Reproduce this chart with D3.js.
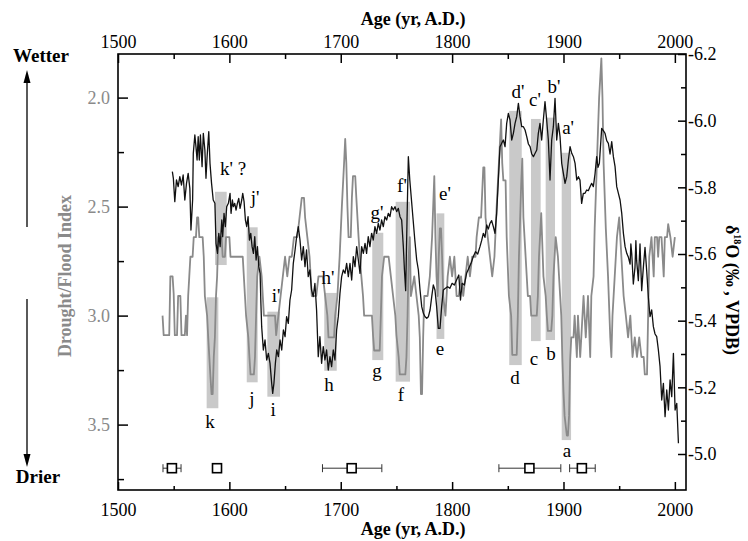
<!DOCTYPE html>
<html>
<head>
<meta charset="utf-8">
<script src="https://cdn.jsdelivr.net/npm/d3@7"></script>
<style>
  body { margin: 0; background: #fff; }
  svg text { font-family: "Liberation Serif", "Times New Roman", serif; }
</style>
</head>
<body>
<div id="chart"></div>
<script>
// Drought/Flood index (left axis, grey line): [year, index]
const dfiSeries = [
  [1540,3.0],[1541,3.09],[1546,3.09],[1547,2.82],[1549,2.82],[1550,2.9],[1551,3.09],[1553,3.09],[1554,2.91],[1556,2.91],
  [1557,3.09],[1560,3.09],[1561,3.0],[1562,3.09],[1563,2.91],[1564,2.82],[1565,2.73],[1567,2.73],[1568,2.64],[1570,2.64],
  [1571,2.55],[1572,2.55],[1573,2.64],[1576,2.64],[1577,2.73],[1578,2.91],[1580,3.0],[1581,3.1],[1582,3.19],[1583,3.28],
  [1584,3.36],[1585,3.36],[1586,3.19],[1587,3.1],[1588,2.91],[1589,2.82],[1590,2.64],[1593,2.64],[1594,2.73],[1596,2.73],
  [1597,2.64],[1600,2.64],[1601,2.73],[1612,2.73],[1614,2.91],[1615,3.0],[1617,3.1],[1618,3.19],[1619,3.27],[1622,3.27],
  [1623,3.19],[1624,3.0],[1625,2.82],[1627,2.73],[1629,2.82],[1631,3.0],[1641,3.0],[1642,3.09],[1644,3.0],[1646,2.91],
  [1648,2.82],[1650,2.73],[1652,2.82],[1654,2.73],[1656,2.73],[1658,2.64],[1661,2.64],[1663,2.55],[1665,2.46],[1667,2.46],
  [1668,2.55],[1670,2.64],[1672,2.73],[1674,2.91],[1678,2.91],[1680,2.82],[1684,2.82],[1686,2.91],[1688,3.0],[1689,3.1],
  [1694,3.1],[1695,3.0],[1697,2.91],[1699,2.73],[1701,2.5],[1703,2.3],[1704,2.19],[1705,2.3],[1706,2.5],[1707,2.64],
  [1709,2.64],[1710,2.46],[1711,2.36],[1713,2.36],[1714,2.46],[1716,2.64],[1718,2.79],[1720,2.91],[1721,3.0],[1728,3.0],
  [1729,3.09],[1730,3.16],[1735,3.16],[1736,3.0],[1737,2.82],[1739,2.73],[1743,2.73],[1745,2.82],[1747,2.91],[1749,3.0],
  [1750,3.09],[1752,3.19],[1753,3.27],[1758,3.27],[1759,3.19],[1760,3.0],[1761,2.73],[1762,2.64],[1763,2.91],[1766,2.82],
  [1768,2.91],[1770,3.0],[1771,3.1],[1772,3.36],[1773,3.36],[1774,3.1],[1775,2.91],[1778,2.91],[1780,2.82],[1782,2.64],
  [1784,2.36],[1785,2.64],[1786,2.82],[1787,2.91],[1788,2.73],[1789,2.6],[1790,2.6],[1791,2.73],[1792,2.91],[1794,3.0],
  [1796,2.82],[1798,2.73],[1800,2.82],[1802,2.73],[1804,2.91],[1806,2.91],[1808,2.82],[1810,2.91],[1812,2.82],[1814,2.73],
  [1816,2.82],[1818,2.73],[1821,2.73],[1822,2.64],[1824,2.55],[1826,2.55],[1828,2.32],[1829,2.32],[1830,2.55],[1832,2.64],
  [1834,2.73],[1836,2.82],[1838,2.73],[1840,2.5],[1842,2.3],[1844,2.1],[1845,2.3],[1846,2.38],[1848,2.38],[1849,2.64],
  [1851,2.91],[1853,3.0],[1854,3.18],[1858,3.18],[1859,3.0],[1860,2.73],[1862,2.4],[1863,2.28],[1864,2.55],[1866,2.73],
  [1868,2.91],[1870,2.91],[1871,3.0],[1876,3.0],[1877,2.91],[1878,2.73],[1880,2.53],[1882,2.82],[1884,2.91],[1885,3.0],
  [1886,3.07],[1889,3.07],[1890,3.0],[1891,2.82],[1893,2.64],[1895,2.73],[1897,2.91],[1898,3.0],[1899,3.2],[1900,3.35],
  [1901,3.46],[1903,3.55],[1904,3.55],[1905,3.46],[1906,3.2],[1907,3.1],[1909,3.1],[1910,3.0],[1912,3.19],[1913,3.0],
  [1915,3.19],[1916,3.1],[1918,2.91],[1920,3.1],[1922,2.91],[1924,3.19],[1925,2.91],[1927,2.82],[1928,2.6],[1930,2.3],
  [1932,2.0],[1934,1.82],[1935,2.0],[1936,2.3],[1938,2.6],[1940,2.82],[1942,3.1],[1943,3.19],[1944,3.0],[1946,2.82],
  [1948,2.64],[1950,2.55],[1952,2.73],[1954,2.91],[1956,3.0],[1958,3.1],[1960,3.0],[1962,3.19],[1964,3.1],[1966,3.19],
  [1968,3.1],[1970,3.19],[1972,3.19],[1973,3.27],[1975,3.27],[1976,3.0],[1977,2.73],[1979,2.64],[1981,2.82],[1982,2.64],
  [1984,2.64],[1985,2.73],[1986,2.64],[1988,2.64],[1990,2.82],[1991,2.64],[1993,2.64],[1994,2.58],[1996,2.64],[1998,2.73],
  [2000,2.64]
];

// Stalagmite delta 18O (right axis, black line): [year, permil]
const d18oSeries = [
  [1548.8,-5.847],[1549.7,-5.827],[1551,-5.757],[1552.5,-5.822],[1554,-5.802],[1555.5,-5.832],[1557,-5.807],[1558.5,-5.837],
  [1560,-5.762],[1561.5,-5.812],[1563,-5.842],[1564.5,-5.797],[1565.5,-5.672],[1567,-5.762],[1567.6,-5.902],[1569,-5.957],
  [1570,-5.922],[1571,-5.882],[1572,-5.952],[1573,-5.882],[1574,-5.957],[1575.5,-5.862],[1576.6,-5.962],[1578,-5.912],
  [1579,-5.827],[1580,-5.892],[1581.5,-5.967],[1582.6,-5.872],[1584,-5.812],[1585.5,-5.762],[1587,-5.752],[1588,-5.632],
  [1589.3,-5.602],[1590.5,-5.662],[1591.7,-5.622],[1593.2,-5.702],[1594,-5.652],[1595.2,-5.722],[1596.4,-5.682],[1597.6,-5.742],
  [1599.1,-5.752],[1600.6,-5.782],[1601.5,-5.722],[1602.7,-5.762],[1603.6,-5.742],[1604.8,-5.752],[1606,-5.732],[1607.2,-5.752],
  [1608.4,-5.767],[1609.6,-5.737],[1611.1,-5.762],[1612,-5.782],[1613.2,-5.757],[1614.4,-5.702],[1615.6,-5.682],[1616.8,-5.712],
  [1618,-5.642],[1619.2,-5.662],[1620.4,-5.622],[1621.6,-5.602],[1622.8,-5.652],[1624,-5.582],[1625.2,-5.622],[1626.4,-5.562],
  [1627.6,-5.542],[1628.3,-5.452],[1629,-5.382],[1630.5,-5.312],[1632,-5.342],[1633.5,-5.282],[1635,-5.302],[1636.5,-5.272],
  [1638,-5.212],[1638.9,-5.182],[1640,-5.212],[1641.3,-5.272],[1642.5,-5.312],[1644,-5.292],[1645.5,-5.342],[1647,-5.312],
  [1648.5,-5.372],[1650,-5.352],[1651.4,-5.412],[1652.9,-5.392],[1654.4,-5.462],[1655.9,-5.492],[1657.4,-5.572],[1659,-5.612],
  [1660.4,-5.652],[1661.9,-5.682],[1663.4,-5.642],[1664.9,-5.582],[1666.4,-5.622],[1667.9,-5.562],[1669.3,-5.612],[1670.8,-5.532],
  [1672.3,-5.552],[1673.8,-5.492],[1675.3,-5.472],[1676.8,-5.512],[1678.3,-5.432],[1679.8,-5.292],[1681.3,-5.352],[1682.8,-5.272],
  [1684.3,-5.322],[1685.8,-5.282],[1687.3,-5.312],[1688.8,-5.252],[1690.3,-5.292],[1691.8,-5.262],[1693.3,-5.312],[1694.8,-5.282],
  [1696.3,-5.372],[1697.8,-5.412],[1699.3,-5.482],[1700.8,-5.532],[1702.3,-5.552],[1703.8,-5.542],[1705.3,-5.572],[1706.8,-5.532],
  [1708.3,-5.572],[1709.8,-5.522],[1711.3,-5.592],[1712.8,-5.562],[1714.3,-5.622],[1715.8,-5.582],[1717.3,-5.542],[1718.8,-5.622],
  [1720.3,-5.602],[1721.8,-5.632],[1723.2,-5.602],[1724.7,-5.652],[1726.2,-5.622],[1727.7,-5.662],[1729.2,-5.642],[1730.7,-5.682],
  [1732.2,-5.662],[1733.7,-5.692],[1735.2,-5.672],[1736.7,-5.702],[1738.2,-5.682],[1739.7,-5.712],[1741.2,-5.702],[1742.7,-5.722],
  [1744.2,-5.712],[1745.7,-5.742],[1747.2,-5.732],[1748.7,-5.742],[1750.2,-5.727],[1751.7,-5.737],[1753.2,-5.712],[1754.7,-5.702],
  [1756.2,-5.622],[1757.2,-5.552],[1758.3,-5.49],[1759.5,-5.7],[1760.7,-5.892],[1762,-5.822],[1763.5,-5.762],[1765,-5.702],
  [1766.5,-5.642],[1768.2,-5.582],[1769.7,-5.552],[1771.2,-5.492],[1772.7,-5.442],[1774.2,-5.422],[1775.7,-5.412],[1777.2,-5.407],
  [1778.7,-5.412],[1780.2,-5.432],[1781.7,-5.472],[1783.1,-5.507],[1784.6,-5.492],[1786.1,-5.442],[1787.6,-5.377],[1789.1,-5.377],
  [1790.6,-5.442],[1792.1,-5.492],[1794,-5.497],[1796,-5.502],[1798,-5.497],[1800,-5.512],[1802,-5.507],[1804,-5.522],
  [1806,-5.537],[1807.5,-5.462],[1809,-5.512],[1811,-5.507],[1813,-5.542],[1815,-5.557],[1817,-5.572],[1819,-5.592],
  [1821,-5.607],[1823,-5.6],[1825,-5.622],[1826.5,-5.64],[1828,-5.662],[1829.5,-5.65],[1831,-5.687],[1832.5,-5.675],
  [1834,-5.692],[1835.5,-5.7],[1837,-5.682],[1838.5,-5.662],[1840,-5.722],[1841.5,-5.822],[1843,-5.922],[1844.5,-5.932],
  [1846,-5.942],[1847.5,-5.922],[1849,-5.992],[1850.5,-6.022],[1852,-6.002],[1853.5,-5.942],[1855,-5.962],[1856.5,-5.992],
  [1858,-6.012],[1859.5,-6.052],[1861,-6.012],[1862.5,-5.982],[1864,-5.982],[1865.5,-5.972],[1867,-5.952],[1868.5,-5.93],
  [1870,-5.922],[1871.5,-5.9],[1873,-5.892],[1874.5,-5.902],[1876,-5.912],[1877.4,-5.962],[1878.9,-5.992],[1880.4,-5.942],
  [1881.9,-6.002],[1883.4,-6.057],[1884.9,-6.002],[1886.4,-5.942],[1887.9,-5.822],[1889.4,-5.942],[1890.9,-5.982],[1892.4,-6.067],
  [1893.9,-5.942],[1895.4,-5.992],[1896.9,-5.952],[1898.4,-5.872],[1899.9,-5.842],[1901.4,-5.812],[1902.9,-5.832],[1904.4,-5.882],
  [1905.9,-5.922],[1907.4,-5.902],[1908.9,-5.892],[1910.4,-5.872],[1911.9,-5.822],[1913.4,-5.832],[1914.8,-5.822],[1916.3,-5.752],
  [1917.8,-5.782],[1919.3,-5.782],[1920.8,-5.792],[1922.3,-5.79],[1923.8,-5.802],[1925.3,-5.812],[1926.8,-5.802],[1928.3,-5.84],
  [1929.8,-5.892],[1931,-5.86],[1932.2,-5.872],[1934.3,-5.977],[1935.8,-5.97],[1937.3,-5.962],[1938.8,-5.94],[1940.3,-5.932],
  [1941.8,-5.9],[1943.3,-5.937],[1944.8,-5.892],[1946.3,-5.862],[1947.8,-5.802],[1949.3,-5.782],[1950.8,-5.762],[1952.3,-5.722],
  [1953.8,-5.662],[1955.3,-5.622],[1956.8,-5.602],[1958.3,-5.59],[1959.8,-5.57],[1960.5,-5.63],[1961.3,-5.6],[1962.7,-5.51],
  [1964.2,-5.56],[1965,-5.64],[1965.7,-5.58],[1967.2,-5.52],[1968.7,-5.63],[1970.2,-5.49],[1971.7,-5.56],[1973.2,-5.62],
  [1974.7,-5.55],[1976.2,-5.47],[1977.7,-5.412],[1979.2,-5.432],[1980.7,-5.382],[1982.2,-5.36],[1983.7,-5.352],[1985.2,-5.312],
  [1986.7,-5.262],[1988.2,-5.162],[1989.7,-5.212],[1991.2,-5.112],[1992.7,-5.192],[1994.2,-5.132],[1995.7,-5.222],[1997.2,-5.172],
  [1998.7,-5.302],[2000.2,-5.132],[2001.7,-5.152],[2003.2,-5.032]
];

// Shaded event bands (in years and index units)
const bandNames  = ["a", "b", "c", "d", "e", "f", "g", "h", "i", "j", "k", "k'"];
const bandStart  = [1898.4, 1884.0, 1870.8, 1851.3, 1786.0, 1749.3, 1728.3, 1685.2, 1634.1, 1615.6, 1579.6, 1587.1];
const bandEnd    = [1906.8, 1892.4, 1879.5, 1862.5, 1793.0, 1762.2, 1738.2, 1696.4, 1645.5, 1625.4, 1590.1, 1597.6];
const bandTop    = [2.253, 2.092, 2.098, 2.061, 2.531, 2.478, 2.620, 2.896, 2.982, 2.595, 2.916, 2.432];
const bandBottom = [3.571, 3.112, 3.117, 3.227, 3.107, 3.303, 3.204, 3.253, 3.372, 3.306, 3.425, 2.768];

// Event letters, anchored in years and index units
const labelText = ["a'", "b'", "c'", "d'", "e'", "f'", "g'", "h'", "i'", "j'", "k' ?",
                   "a", "b", "c", "d", "e", "f", "g", "h", "i", "j", "k"];
const labelYear = [1904.1, 1891.5, 1874.4, 1859.2, 1793.6, 1755.0, 1732.6, 1688.6, 1641.9, 1623.0, 1603.3,
                   1903.2, 1888.8, 1873.5, 1856.5, 1789.1, 1754.1, 1732.6, 1689.5, 1639.2, 1620.3, 1582.6];
const labelIndex = [2.135, 1.947, 2.011, 1.974, 2.442, 2.401, 2.529, 2.823, 2.906, 2.46, 2.323,
                    3.617, 3.172, 3.199, 3.282, 3.149, 3.364, 3.25, 3.318, 3.433, 3.378, 3.488];

// U-Th ages with 2-sigma errors
const ageYears = [1548.4, 1588.9, 1709.8, 1869.4, 1916.5];
const ageLow   = [1540.4, 1588.9, 1683.6, 1842.0, 1905.5];
const ageHigh  = [1556.6, 1588.9, 1736.9, 1897.6, 1928.5];
const ageRow = 3.70;

// Ticks
const yearTicks = [1500, 1600, 1700, 1800, 1900, 2000];
const yearMinor = [1550, 1650, 1750, 1850, 1950];
const dfiTicks = [2.0, 2.5, 3.0, 3.5];
const dfiMinor = [2.25, 2.75, 3.25, 3.75];
const d18oTicks = [-6.2, -6.0, -5.8, -5.6, -5.4, -5.2, -5.0];
const d18oMinor = [-6.1, -5.9, -5.7, -5.5, -5.3, -5.1];

const margin = { top: 54, right: 62, bottom: 51, left: 118 };
const width = 748 - margin.left - margin.right;
const height = 541 - margin.top - margin.bottom;

const root = d3.select("#chart")
    .append("svg")
    .attr("width", 748)
    .attr("height", 541);

const svg = root.append("g")
    .attr("transform", `translate(${margin.left},${margin.top})`);

const x = d3.scaleLinear().domain([1500, 2010]).range([0, width]);
const yL = d3.scaleLinear().domain([1.8, 3.8]).range([0, height]);
const yR = d3.scaleLinear().domain([-6.2, -4.892]).range([0, height]);

const grey = "#8a8a8a";

// Shaded bands
svg.append("g")
    .selectAll("rect")
    .data(bandNames.map((n, i) => i))
    .join("rect")
    .attr("x", i => x(bandStart[i]))
    .attr("width", i => x(bandEnd[i]) - x(bandStart[i]))
    .attr("y", i => yL(bandTop[i]))
    .attr("height", i => yL(bandBottom[i]) - yL(bandTop[i]))
    .attr("fill", "#c9c9c9");

// Drought/Flood index line
svg.append("path")
    .attr("fill", "none")
    .attr("stroke", grey)
    .attr("stroke-width", 1.8)
    .attr("stroke-linejoin", "round")
    .attr("d", d3.line().x(d => x(d[0])).y(d => yL(d[1]))(dfiSeries));

// d18O line
svg.append("path")
    .attr("fill", "none")
    .attr("stroke", "#111")
    .attr("stroke-width", 1.3)
    .attr("stroke-linejoin", "round")
    .attr("d", d3.line().x(d => x(d[0])).y(d => yR(d[1]))(d18oSeries));

// Event letters
svg.append("g")
    .selectAll("text")
    .data(labelText.map((t, i) => i))
    .join("text")
    .attr("x", i => x(labelYear[i]))
    .attr("y", i => yL(labelIndex[i]))
    .attr("text-anchor", "middle")
    .attr("dominant-baseline", "central")
    .attr("font-size", 19)
    .text(i => labelText[i]);

// Age markers with error bars
const ages = svg.append("g");
ageYears.forEach((yr, i) => {
    const cy = yL(ageRow);
    if (ageHigh[i] > ageLow[i]) {
        ages.append("line")
            .attr("x1", x(ageLow[i])).attr("x2", x(ageHigh[i]))
            .attr("y1", cy).attr("y2", cy)
            .attr("stroke", "#333").attr("stroke-width", 1);
        [ageLow[i], ageHigh[i]].forEach(v => {
            ages.append("line")
                .attr("x1", x(v)).attr("x2", x(v))
                .attr("y1", cy - 4).attr("y2", cy + 4)
                .attr("stroke", "#333").attr("stroke-width", 1);
        });
    }
    ages.append("rect")
        .attr("x", x(yr) - 4.5).attr("y", cy - 4.5)
        .attr("width", 9).attr("height", 9)
        .attr("fill", "white")
        .attr("stroke", "black")
        .attr("stroke-width", 1.6);
});

// Axes
function styleAxis(g, color) {
    g.select(".domain").remove();
    g.selectAll("line").attr("stroke", "black").attr("stroke-width", 1.5);
    g.selectAll("text")
        .attr("font-family", "Liberation Serif, serif")
        .attr("font-size", 18)
        .attr("fill", color || "black");
}

svg.append("g")
    .attr("transform", `translate(0,${height})`)
    .call(d3.axisBottom(x).tickValues(yearTicks).tickSize(-8).tickPadding(13).tickFormat(d3.format("d")))
    .call(g => styleAxis(g));
svg.append("g")
    .attr("transform", `translate(0,${height})`)
    .call(d3.axisBottom(x).tickValues(yearMinor).tickSize(-4).tickFormat(""))
    .call(g => styleAxis(g));

svg.append("g")
    .call(d3.axisTop(x).tickValues(yearTicks).tickSize(-9).tickPadding(6).tickFormat(d3.format("d")))
    .call(g => styleAxis(g));
svg.append("g")
    .call(d3.axisTop(x).tickValues(yearMinor).tickSize(-5).tickFormat(""))
    .call(g => styleAxis(g));

svg.append("g")
    .call(d3.axisLeft(yL).tickValues(dfiTicks).tickSize(-10).tickPadding(8).tickFormat(d => d.toFixed(1)))
    .call(g => styleAxis(g, grey));
svg.append("g")
    .call(d3.axisLeft(yL).tickValues(dfiMinor).tickSize(-6).tickFormat(""))
    .call(g => styleAxis(g));

svg.append("g")
    .attr("transform", `translate(${width},0)`)
    .call(d3.axisRight(yR).tickValues(d18oTicks).tickSize(-8).tickPadding(2).tickFormat(d => d.toFixed(1)))
    .call(g => styleAxis(g));
svg.append("g")
    .attr("transform", `translate(${width},0)`)
    .call(d3.axisRight(yR).tickValues(d18oMinor).tickSize(-5).tickFormat(""))
    .call(g => styleAxis(g));

// Frame
svg.append("rect")
    .attr("width", width)
    .attr("height", height)
    .attr("fill", "none")
    .attr("stroke", "black")
    .attr("stroke-width", 1.6);

// Axis titles
root.append("text")
    .attr("x", margin.left + x(1765))
    .attr("y", 25)
    .attr("text-anchor", "middle")
    .attr("font-size", 18)
    .attr("font-weight", "bold")
    .text("Age (yr, A.D.)");

root.append("text")
    .attr("x", margin.left + x(1765))
    .attr("y", 535)
    .attr("text-anchor", "middle")
    .attr("font-size", 18)
    .attr("font-weight", "bold")
    .text("Age (yr, A.D.)");

root.append("text")
    .attr("transform", "translate(65,276) rotate(-90)")
    .attr("text-anchor", "middle")
    .attr("dominant-baseline", "central")
    .attr("font-size", 18)
    .attr("font-weight", "bold")
    .attr("fill", grey)
    .text("Drought/Flood Index");

const rTitle = root.append("text")
    .attr("transform", "translate(732,290) rotate(90)")
    .attr("text-anchor", "middle")
    .attr("dominant-baseline", "central")
    .attr("font-size", 18)
    .attr("font-weight", "bold");
rTitle.append("tspan").text("δ");
rTitle.append("tspan").attr("font-size", 10).attr("dy", -6).text("18");
rTitle.append("tspan").attr("dy", 6).text("O (‰ , VPDB)");

// Wetter / Drier arrows
root.append("text")
    .attr("x", 41).attr("y", 62)
    .attr("text-anchor", "middle")
    .attr("font-size", 19)
    .attr("font-weight", "bold")
    .text("Wetter");
root.append("text")
    .attr("x", 38).attr("y", 483)
    .attr("text-anchor", "middle")
    .attr("font-size", 19)
    .attr("font-weight", "bold")
    .text("Drier");

const arrows = root.append("g").attr("stroke", "black").attr("stroke-width", 1.3);
arrows.append("line").attr("x1", 27).attr("x2", 27).attr("y1", 227).attr("y2", 80);
arrows.append("line").attr("x1", 27).attr("x2", 27).attr("y1", 299).attr("y2", 456);
root.append("path").attr("d", "M27,70 L23.5,83 L30.5,83 Z").attr("fill", "black");
root.append("path").attr("d", "M27,467 L23.5,454 L30.5,454 Z").attr("fill", "black");
</script>
</body>
</html>
